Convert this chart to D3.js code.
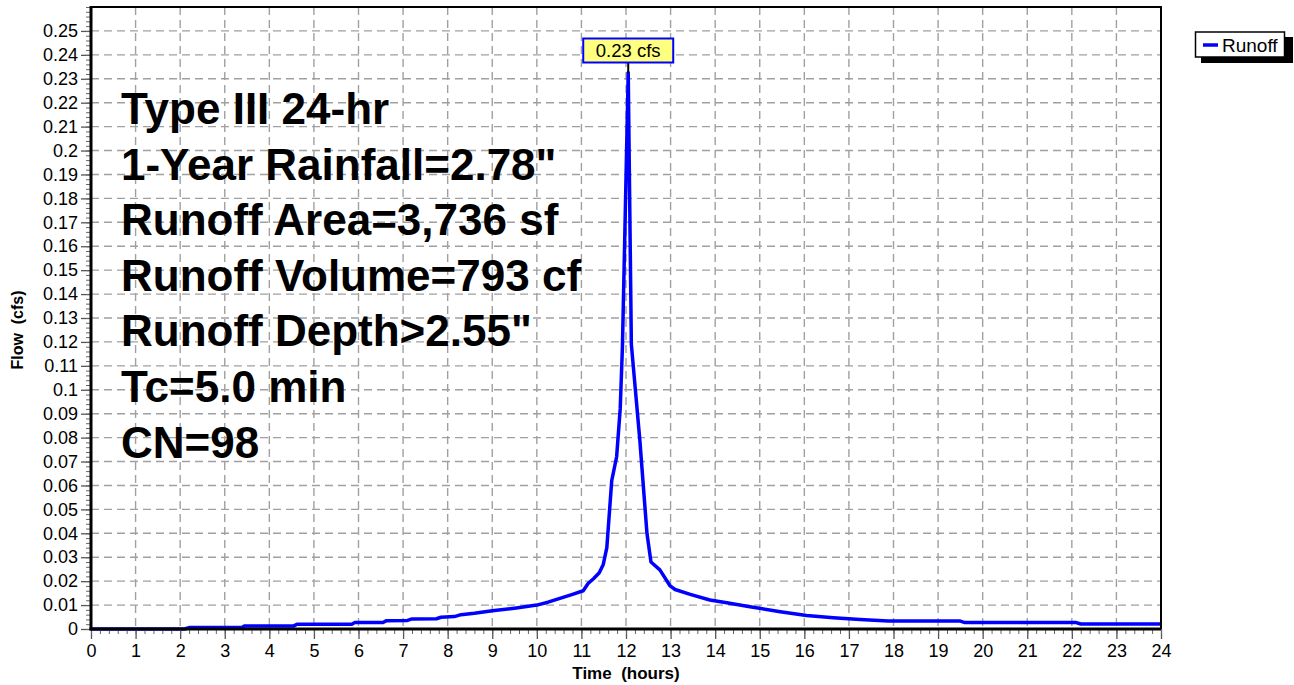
<!DOCTYPE html>
<html>
<head>
<meta charset="utf-8">
<script src="https://cdn.jsdelivr.net/npm/d3@7"></script>
<style>
  html, body { margin: 0; padding: 0; background: #fff; }
  svg { display: block; }
  text { font-family: "Liberation Sans", Arial, sans-serif; }
</style>
</head>
<body>
<svg id="chart" width="1294" height="685"></svg>
<script>
// ---- Data ----
const times = [0, 2.1, 2.2, 3.38, 3.45, 4.55, 4.62, 5.85, 5.92, 6.55, 6.63, 7.1, 7.2, 7.75, 7.85, 8.15, 8.3, 8.6, 9.0, 9.5, 10.0, 10.25, 10.5, 10.8, 11.04, 11.15, 11.27, 11.4, 11.49, 11.57, 11.68, 11.79, 11.87, 11.92, 12.05, 12.12, 12.31, 12.47, 12.56, 12.76, 12.99, 13.1, 13.44, 13.88, 14.26, 14.78, 15.46, 16.05, 16.65, 17.25, 17.88, 19.5, 19.6, 22.1, 22.2, 24];
const flows = [0, 0, 0.0006, 0.0006, 0.0013, 0.0013, 0.002, 0.002, 0.0027, 0.0027, 0.0035, 0.0036, 0.0042, 0.0043, 0.0049, 0.0052, 0.006, 0.0066, 0.0076, 0.0087, 0.0100, 0.0112, 0.0127, 0.0145, 0.016, 0.019, 0.021, 0.0235, 0.027, 0.034, 0.062, 0.072, 0.092, 0.118, 0.2325, 0.119, 0.079, 0.040, 0.028, 0.0247, 0.018, 0.0165, 0.0145, 0.0121, 0.011, 0.0093, 0.0072, 0.0056, 0.0047, 0.004, 0.0033, 0.0033, 0.0027, 0.0027, 0.0021, 0.0021];
const xTicks = d3.range(0, 25, 1);
const yTicks = d3.range(0, 26, 1).map(i => i / 100);
const xMinorTicks = d3.range(0, 121, 1).map(i => i / 5);
const yMinorTicks = d3.range(0, 131, 1).map(i => i / 500);
const annotationLines = ["Type III 24-hr", "1-Year Rainfall=2.78\"", "Runoff Area=3,736 sf", "Runoff Volume=793 cf", "Runoff Depth>2.55\"", "Tc=5.0 min", "CN=98"];
const peakLabel = "0.23 cfs";
const peakTime = 12.05, peakFlow = 0.2325;
const seriesName = "Runoff";
const xTitle = "Time  (hours)";
const yTitle = "Flow  (cfs)";

// ---- Layout ----
const L = 91, R = 1161, T = 7, B = 629;
const FONT = '"Liberation Sans", Arial, sans-serif';
const svg = d3.select("#chart");
const x = d3.scaleLinear().domain([0, 24]).range([L, R]);
const y = d3.scaleLinear().domain([0, 0.26]).range([B, T]);
const fmtY = v => String(+v.toFixed(2));

// grid
const grid = svg.append("g");
grid.selectAll("line.v").data(xTicks.slice(1, -1)).enter().append("line")
  .attr("x1", d => x(d)).attr("x2", d => x(d)).attr("y1", T).attr("y2", B)
  .attr("stroke", "#a0a0a0").attr("stroke-width", 1.4).attr("stroke-dasharray", "8,5");
grid.selectAll("line.h").data(yTicks.slice(1)).enter().append("line")
  .attr("x1", L).attr("x2", R).attr("y1", d => y(d)).attr("y2", d => y(d))
  .attr("stroke", "#a0a0a0").attr("stroke-width", 1.4).attr("stroke-dasharray", "8,5");

// annotation text
svg.append("g").selectAll("text").data(annotationLines).enter().append("text")
  .attr("x", 121).attr("y", (d, i) => 124 + i * 55.6)
  .attr("font-size", 44).attr("font-weight", "bold").attr("fill", "#000")
  .text(d => d);

// curve
const pts = times.map((t, i) => [t, flows[i]]);
svg.append("path").datum(pts)
  .attr("d", d3.line().x(d => x(d[0])).y(d => y(d[1])))
  .attr("fill", "none").attr("stroke", "#0000ff").attr("stroke-width", 3.5)
  .attr("stroke-linejoin", "round");

// axes
const yAxis = d3.axisLeft(y).tickValues(yTicks).tickFormat(fmtY).tickSize(10).tickPadding(3);
const gy = svg.append("g").attr("transform", `translate(${L},0)`).call(yAxis);
gy.select(".domain").remove();
gy.selectAll("text").attr("font-size", 18).attr("fill", "#000").style("font-family", FONT);
gy.selectAll("line").attr("stroke", "#555").attr("stroke-width", 1.3);

const yMinor = d3.axisLeft(y).tickValues(yMinorTicks).tickFormat("").tickSize(5);
const gym = svg.append("g").attr("transform", `translate(${L},0)`).call(yMinor);
gym.select(".domain").remove();
gym.selectAll("line").attr("stroke", "#666").attr("stroke-width", 1);

const xAxis = d3.axisBottom(x).tickValues(xTicks).tickFormat(d3.format("d")).tickSize(10).tickPadding(5);
const gx = svg.append("g").attr("transform", `translate(0,${B})`).call(xAxis);
gx.select(".domain").remove();
gx.selectAll("text").attr("font-size", 18).attr("fill", "#000").style("font-family", FONT);
gx.selectAll("line").attr("stroke", "#555").attr("stroke-width", 1.3);

const xMinor = d3.axisBottom(x).tickValues(xMinorTicks).tickFormat("").tickSize(5);
const gxm = svg.append("g").attr("transform", `translate(0,${B})`).call(xMinor);
gxm.select(".domain").remove();
gxm.selectAll("line").attr("stroke", "#666").attr("stroke-width", 1);

// frame
svg.append("line").attr("x1", L).attr("x2", R + 1).attr("y1", T).attr("y2", T).attr("stroke", "#000").attr("stroke-width", 2);
svg.append("line").attr("x1", R).attr("x2", R).attr("y1", T).attr("y2", B).attr("stroke", "#000").attr("stroke-width", 2);
svg.append("line").attr("x1", L).attr("x2", L).attr("y1", T - 1).attr("y2", B + 1.5).attr("stroke", "#000").attr("stroke-width", 3);
svg.append("line").attr("x1", L - 1.5).attr("x2", R).attr("y1", B).attr("y2", B).attr("stroke", "#000").attr("stroke-width", 3);

// axis titles
svg.append("text").attr("x", (L + R) / 2).attr("y", 679).attr("text-anchor", "middle")
  .attr("font-size", 17).attr("font-weight", "bold").attr("xml:space", "preserve").text(xTitle);
svg.append("text").attr("transform", `translate(23,330) rotate(-90)`).attr("text-anchor", "middle")
  .attr("font-size", 16).attr("font-weight", "bold").attr("xml:space", "preserve").text(yTitle);

// peak label
const px = x(peakTime), py = y(peakFlow);
const bw = 90, bh = 24, bTop = 38.5;
svg.append("line").attr("x1", px).attr("x2", px).attr("y1", bTop + bh).attr("y2", py)
  .attr("stroke", "#000").attr("stroke-width", 2);
svg.append("rect").attr("x", px - bw / 2).attr("y", bTop).attr("width", bw).attr("height", bh)
  .attr("fill", "#ffff80").attr("stroke", "#0000ff").attr("stroke-width", 2);
svg.append("text").attr("x", px).attr("y", bTop + 18.5).attr("text-anchor", "middle")
  .attr("font-size", 18.5).attr("fill", "#000").text(peakLabel);

// legend
const lg = svg.append("g");
lg.append("rect").attr("x", 1201).attr("y", 37).attr("width", 92).attr("height", 26).attr("fill", "#000");
lg.append("rect").attr("x", 1195.5).attr("y", 32).attr("width", 89).attr("height", 25)
  .attr("fill", "#fff").attr("stroke", "#000").attr("stroke-width", 1.5);
lg.append("line").attr("x1", 1203).attr("x2", 1218).attr("y1", 45).attr("y2", 45)
  .attr("stroke", "#0000ff").attr("stroke-width", 3.5);
lg.append("text").attr("x", 1222).attr("y", 51.5).attr("font-size", 19).attr("fill", "#000").text(seriesName);
</script>
</body>
</html>
